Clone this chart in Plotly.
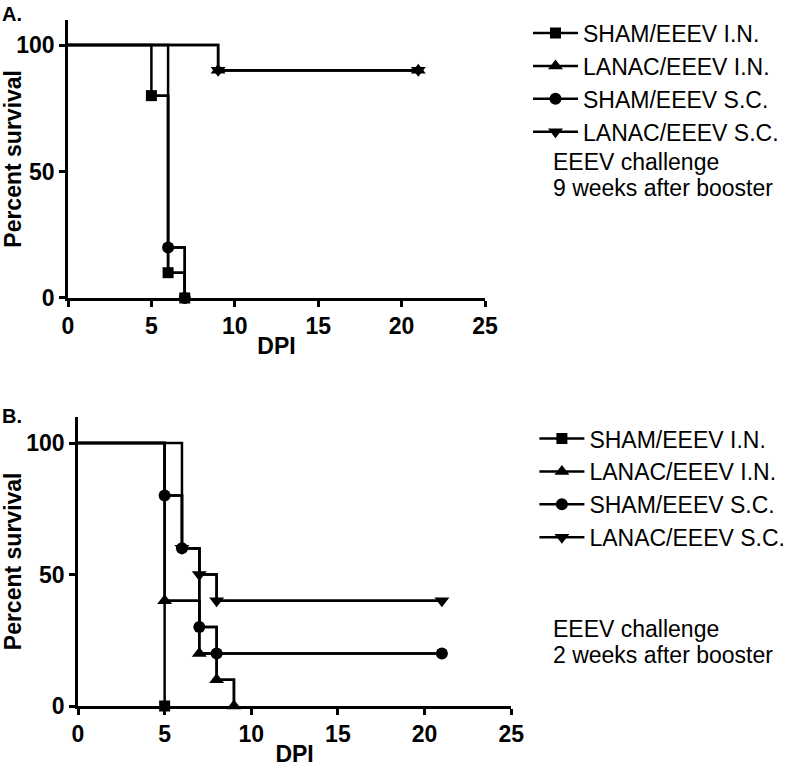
import plotly.graph_objects as go

# ── Kaplan-Meier survival data (days post infection, percent survival) ───────
series_names   = ["SHAM/EEEV I.N.", "LANAC/EEEV I.N.", "SHAM/EEEV S.C.", "LANAC/EEEV S.C."]
series_symbols = ["square", "triangle-up", "circle", "triangle-down"]

# Panel A: challenge 9 weeks after booster
a_sham_in_x  = [0, 5, 6, 7]
a_sham_in_y  = [100, 80, 10, 0]
a_lanac_in_x = [0, 9, 21]
a_lanac_in_y = [100, 90, 90]
a_sham_sc_x  = [0, 6, 7]
a_sham_sc_y  = [100, 20, 0]
a_lanac_sc_x = [0, 9, 21]
a_lanac_sc_y = [100, 90, 90]

# Panel B: challenge 2 weeks after booster
b_sham_in_x  = [0, 5]
b_sham_in_y  = [100, 0]
b_lanac_in_x = [0, 5, 7, 8, 9]
b_lanac_in_y = [100, 40, 20, 10, 0]
b_sham_sc_x  = [0, 5, 6, 7, 8, 21]
b_sham_sc_y  = [100, 80, 60, 30, 20, 20]
b_lanac_sc_x = [0, 6, 7, 8, 21]
b_lanac_sc_y = [100, 60, 50, 40, 40]

x_ticks = [0, 5, 10, 15, 20, 25]
y_ticks = [0, 50, 100]

panel_a = [(a_sham_in_x, a_sham_in_y), (a_lanac_in_x, a_lanac_in_y),
           (a_sham_sc_x, a_sham_sc_y), (a_lanac_sc_x, a_lanac_sc_y)]
panel_b = [(b_sham_in_x, b_sham_in_y), (b_lanac_in_x, b_lanac_in_y),
           (b_sham_sc_x, b_sham_sc_y), (b_lanac_sc_x, b_lanac_sc_y)]

FONT = "Liberation Sans, Arial, sans-serif"
LW = 2.5
marker_sizes = {"square": 11, "triangle-up": 13, "circle": 12, "triangle-down": 13}

fig = go.Figure()


def add_panel(data, xa, ya, legend):
    for (xs, ys), name, sym in zip(data, series_names, series_symbols):
        # full step path from day 0
        fig.add_trace(go.Scatter(
            x=xs, y=ys, mode="lines", line=dict(color="black", width=LW, shape="hv"),
            xaxis=xa, yaxis=ya, showlegend=False, hoverinfo="skip", cliponaxis=False,
        ))
        # event markers (deaths / end of follow-up)
        fig.add_trace(go.Scatter(
            x=xs[1:], y=ys[1:], mode="lines+markers", name=name,
            line=dict(color="black", width=LW, shape="hv"),
            marker=dict(symbol=sym, size=marker_sizes[sym], color="black"),
            xaxis=xa, yaxis=ya, legend=legend, cliponaxis=False,
        ))


add_panel(panel_a, "x", "y", "legend")
add_panel(panel_b, "x2", "y2", "legend2")

axis_common = dict(
    showline=True, linecolor="black", linewidth=LW, showgrid=False, zeroline=False,
    ticks="outside", ticklen=6, tickwidth=LW, tickcolor="black", automargin=False,
    tickfont=dict(family=FONT, size=23, color="black", weight="bold"),
)
x_common = dict(axis_common, range=[0, 25], tickvals=x_ticks,
                title=dict(text="<b>DPI</b>", font=dict(family=FONT, size=23, color="black"),
                           standoff=0))
y_common = dict(axis_common, range=[0, 110], tickvals=y_ticks,
                title=dict(text="<b>Percent survival</b>",
                           font=dict(family=FONT, size=23, color="black"), standoff=3))

legend_common = dict(
    xanchor="left", yanchor="top", bgcolor="rgba(0,0,0,0)", borderwidth=0,
    font=dict(family=FONT, size=23, color="black"), itemwidth=45,
)


def note(text, x, y, size):
    return dict(text=text, x=x, y=y, xref="paper", yref="paper",
                xanchor="left", yanchor="middle", showarrow=False,
                font=dict(family=FONT, size=size, color="black"))


fig.update_layout(
    width=800, height=771,
    margin=dict(l=0, r=0, t=0, b=0, autoexpand=False),
    paper_bgcolor="white", plot_bgcolor="white",
    font=dict(family=FONT, color="black"),
    xaxis=dict(x_common, domain=[0.085, 0.60625], anchor="y"),
    yaxis=dict(y_common, domain=[0.6135, 0.9744], anchor="x"),
    xaxis2=dict(x_common, domain=[0.0975, 0.639], anchor="y2"),
    yaxis2=dict(y_common, domain=[0.0843, 0.4595], anchor="x2"),
    legend=dict(legend_common, x=0.66, y=0.985),
    legend2=dict(legend_common, x=0.668, y=0.459),
    annotations=[
        note("<b>A.</b>", 0.0, 1 - 13.5 / 771, 20),
        note("<b>B.</b>", 0.0, 1 - 415.5 / 771, 20),
        note("EEEV challenge", 0.689, 1 - 162 / 771, 23),
        note("9 weeks after booster", 0.689, 1 - 188 / 771, 23),
        note("EEEV challenge", 0.689, 1 - 629 / 771, 23),
        note("2 weeks after booster", 0.689, 1 - 655 / 771, 23),
    ],
)

# drop the browser's default 8px body margin so the figure sits at the page corner
fig.write_html("out.html", config={"displayModeBar": False},
               post_script="document.body.style.margin = '0px';")
